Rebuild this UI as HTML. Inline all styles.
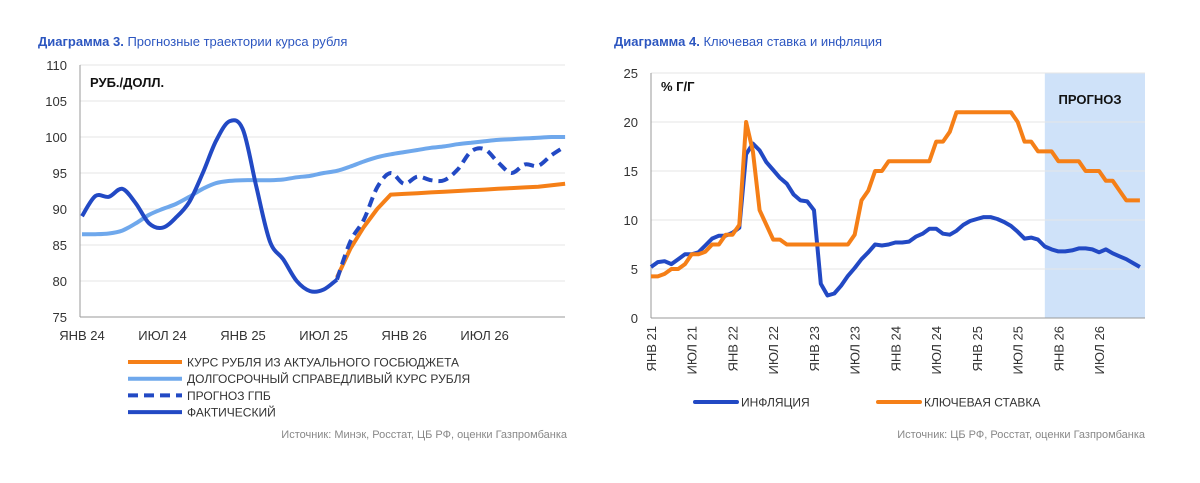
<!DOCTYPE html>
<html><head><meta charset="utf-8"><style>
body{margin:0;background:#fff;width:1200px;height:478px;overflow:hidden}
svg text{font-family:"Liberation Sans","DejaVu Sans",sans-serif}
</style></head><body>
<svg id="s" width="1200" height="478" xmlns="http://www.w3.org/2000/svg">
<text x="38" y="46" font-size="13" fill="#2c56c0"><tspan font-weight="bold">Диаграмма 3.</tspan> Прогнозные траектории курса рубля</text>
<text x="614" y="46" font-size="13" fill="#2c56c0"><tspan font-weight="bold">Диаграмма 4.</tspan> Ключевая ставка и инфляция</text>
<g id="c1"></g>
<g id="c2"></g>
<text x="567" y="438" font-size="11" fill="#888" text-anchor="end">Источник: Минэк, Росстат, ЦБ РФ, оценки Газпромбанка</text>
<text x="1145" y="438" font-size="11" fill="#888" text-anchor="end">Источник: ЦБ РФ, Росстат, оценки Газпромбанка</text>
</svg>
<script>
// Chart 3 data (months from Jan 2024)
const c3Yticks=[75,80,85,90,95,100,105,110];
const c3Xlabels=["ЯНВ 24","ИЮЛ 24","ЯНВ 25","ИЮЛ 25","ЯНВ 26","ИЮЛ 26"];
const c3Xlabelmonths=[0,6,12,18,24,30];
const actual=[89,91.8,91.7,92.8,90.8,88,87.4,88.8,91,95,99.5,102.2,101,93,85.5,83,80,78.6,78.8,80.2];
const gpbStart=19;
const gpb=[80.2,85.5,88.5,93,95,93.5,94.5,94,94,95.5,98,98.3,96.5,95,96.2,96,97.5,98.7];
const budgetStart=19;
const budget=[80.5,84.5,87.5,90,92,92.1,92.2,92.3,92.4,92.5,92.6,92.7,92.8,92.9,93,93.1,93.3,93.5];
const fair=[86.5,86.5,86.6,87,88,89.2,90,90.7,91.7,92.8,93.6,93.9,94,94,94,94.1,94.4,94.6,95,95.3,95.9,96.6,97.2,97.6,97.9,98.2,98.5,98.7,99,99.2,99.4,99.6,99.7,99.8,99.9,100,100];
// Chart 4 data (months from Jan 2021)
const c4Yticks=[0,5,10,15,20,25];
const c4Xlabels=["ЯНВ 21","ИЮЛ 21","ЯНВ 22","ИЮЛ 22","ЯНВ 23","ИЮЛ 23","ЯНВ 24","ИЮЛ 24","ЯНВ 25","ИЮЛ 25","ЯНВ 26","ИЮЛ 26"];
const inflation=[5.2,5.7,5.8,5.5,6.0,6.5,6.5,6.7,7.4,8.1,8.4,8.4,8.7,9.2,16.7,17.8,17.1,15.9,15.1,14.3,13.7,12.6,12.0,11.9,11.0,3.5,2.3,2.5,3.3,4.3,5.1,6.0,6.7,7.5,7.4,7.5,7.7,7.7,7.8,8.3,8.6,9.1,9.1,8.6,8.5,8.9,9.5,9.9,10.1,10.3,10.3,10.1,9.8,9.4,8.8,8.1,8.2,8.0,7.3,7.0,6.8,6.8,6.9,7.1,7.1,7.0,6.7,7.0,6.6,6.3,6.0,5.6,5.2];
const keyRate=[4.25,4.25,4.5,5,5,5.5,6.5,6.5,6.75,7.5,7.5,8.5,8.5,9.5,20,17,11,9.5,8,8,7.5,7.5,7.5,7.5,7.5,7.5,7.5,7.5,7.5,7.5,8.5,12,13,15,15,16,16,16,16,16,16,16,18,18,19,21,21,21,21,21,21,21,21,21,20,18,18,17,17,17,16,16,16,16,15,15,15,14,14,13,12,12,12];
const forecastStart=58;

const NS="http://www.w3.org/2000/svg";
function mk(p,t,a){const e=document.createElementNS(NS,t);for(const k in a)e.setAttribute(k,a[k]);p.appendChild(e);return e;}
function pts(arr,start,xf,yf){return arr.map((v,i)=>xf(start+i).toFixed(1)+","+yf(v).toFixed(1)).join(" ");}
function smooth(arr,start,xf,yf){
  const P=arr.map((v,i)=>[xf(start+i),yf(v)]);
  let d="M"+P[0][0].toFixed(1)+","+P[0][1].toFixed(1);
  for(let i=0;i<P.length-1;i++){
    const p0=P[Math.max(0,i-1)],p1=P[i],p2=P[i+1],p3=P[Math.min(P.length-1,i+2)];
    const c1=[p1[0]+(p2[0]-p0[0])/6,p1[1]+(p2[1]-p0[1])/6];
    const c2=[p2[0]-(p3[0]-p1[0])/6,p2[1]-(p3[1]-p1[1])/6];
    d+=` C${c1[0].toFixed(1)},${c1[1].toFixed(1)} ${c2[0].toFixed(1)},${c2[1].toFixed(1)} ${p2[0].toFixed(1)},${p2[1].toFixed(1)}`;
  }
  return d;
}

// Chart 3
const g1=document.getElementById('c1');
const x1=m=>82+m*13.42, y1=v=>317-(v-75)*7.2;
c3Yticks.forEach(t=>{
  const l=mk(g1,'line',{x1:80,x2:565,y1:y1(t),y2:y1(t),stroke:t==75?'#999':'#e6e6e6','stroke-width':1});
  
  
  const tx=mk(g1,'text',{x:67,y:y1(t)+5,'font-size':13,fill:'#333','text-anchor':'end'});tx.textContent=t;
  
  
});
const ax1=mk(g1,'line',{x1:80,x2:80,y1:65,y2:317,stroke:'#999'});


c3Xlabels.forEach((s,i)=>{const tx=mk(g1,'text',{x:x1(c3Xlabelmonths[i]),y:340,'font-size':13,fill:'#333','text-anchor':'middle'});tx.textContent=s;
  
  });
const u1=mk(g1,'text',{x:90,y:87,'font-size':13,'font-weight':'bold',fill:'#111'});u1.textContent='РУБ./ДОЛЛ.';


let p;
p=mk(g1,'path',{d:smooth(fair,0,x1,y1),fill:'none',stroke:'#6fa8ec','stroke-width':4,'stroke-linejoin':'round'});


p=mk(g1,'polyline',{points:pts(budget,budgetStart,x1,y1),fill:'none',stroke:'#f57f17','stroke-width':4,'stroke-linejoin':'round'});


p=mk(g1,'path',{d:smooth(gpb,gpbStart,x1,y1),fill:'none',stroke:'#2249c4','stroke-width':4,'stroke-dasharray':'10,6','stroke-linejoin':'round'});


p=mk(g1,'path',{d:smooth(actual,0,x1,y1),fill:'none',stroke:'#2249c4','stroke-width':4,'stroke-linejoin':'round'});


const leg1=[["КУРС РУБЛЯ ИЗ АКТУАЛЬНОГО ГОСБЮДЖЕТА","#f57f17",""],["ДОЛГОСРОЧНЫЙ СПРАВЕДЛИВЫЙ КУРС РУБЛЯ","#6fa8ec",""],["ПРОГНОЗ ГПБ","#2249c4","10,6"],["ФАКТИЧЕСКИЙ","#2249c4",""]];
leg1.forEach((e,i)=>{const y=362+i*16.7;
  const l=mk(g1,'line',{x1:128,x2:182,y1:y,y2:y,stroke:e[1],'stroke-width':4,'stroke-dasharray':e[2]||'none'});
  
  
  const t=mk(g1,'text',{x:187,y:y+4.5,'font-size':12,fill:'#333'});t.textContent=e[0];
  
  });

// Chart 4
const g2=document.getElementById('c2');
const x2=m=>651+m*6.79, y2=v=>318-v*9.8;
const sh=mk(g2,'rect',{x:x2(forecastStart),y:73,width:1145-x2(forecastStart),height:245,fill:'#cfe2f9'});


const ft=mk(g2,'text',{x:1090,y:104,'font-size':13,'font-weight':'bold',fill:'#111','text-anchor':'middle'});ft.textContent='ПРОГНОЗ';


c4Yticks.forEach(t=>{
  const l=mk(g2,'line',{x1:651,x2:1145,y1:y2(t),y2:y2(t),stroke:t==0?'#999':'#e6e6e6','stroke-width':1});
  
  
  const tx=mk(g2,'text',{x:638,y:y2(t)+5,'font-size':13,fill:'#333','text-anchor':'end'});tx.textContent=t;
  
  
});
const ax2=mk(g2,'line',{x1:651,x2:651,y1:73,y2:318,stroke:'#999'});


c4Xlabels.forEach((s,i)=>{const x=x2(i*6)+5;const tx=mk(g2,'text',{x:0,y:0,'font-size':13,fill:'#333','text-anchor':'end',transform:`translate(${x},326) rotate(-90)`});tx.textContent=s;
  
  });
const u2=mk(g2,'text',{x:661,y:91,'font-size':13,'font-weight':'bold',fill:'#111'});u2.textContent='% Г/Г';


p=mk(g2,'polyline',{points:pts(inflation,0,x2,y2),fill:'none',stroke:'#2249c4','stroke-width':4,'stroke-linejoin':'round'});


p=mk(g2,'polyline',{points:pts(keyRate,0,x2,y2),fill:'none',stroke:'#f57f17','stroke-width':4,'stroke-linejoin':'round'});


[["ИНФЛЯЦИЯ","#2249c4",695],["КЛЮЧЕВАЯ СТАВКА","#f57f17",878]].forEach(e=>{
  const l=mk(g2,'line',{x1:e[2],x2:e[2]+42,y1:402,y2:402,stroke:e[1],'stroke-width':4,'stroke-linecap':'round'});
  
  
  const t=mk(g2,'text',{x:e[2]+46,y:406.5,'font-size':12,fill:'#333'});t.textContent=e[0];
  
  });
</script>
</body></html>
